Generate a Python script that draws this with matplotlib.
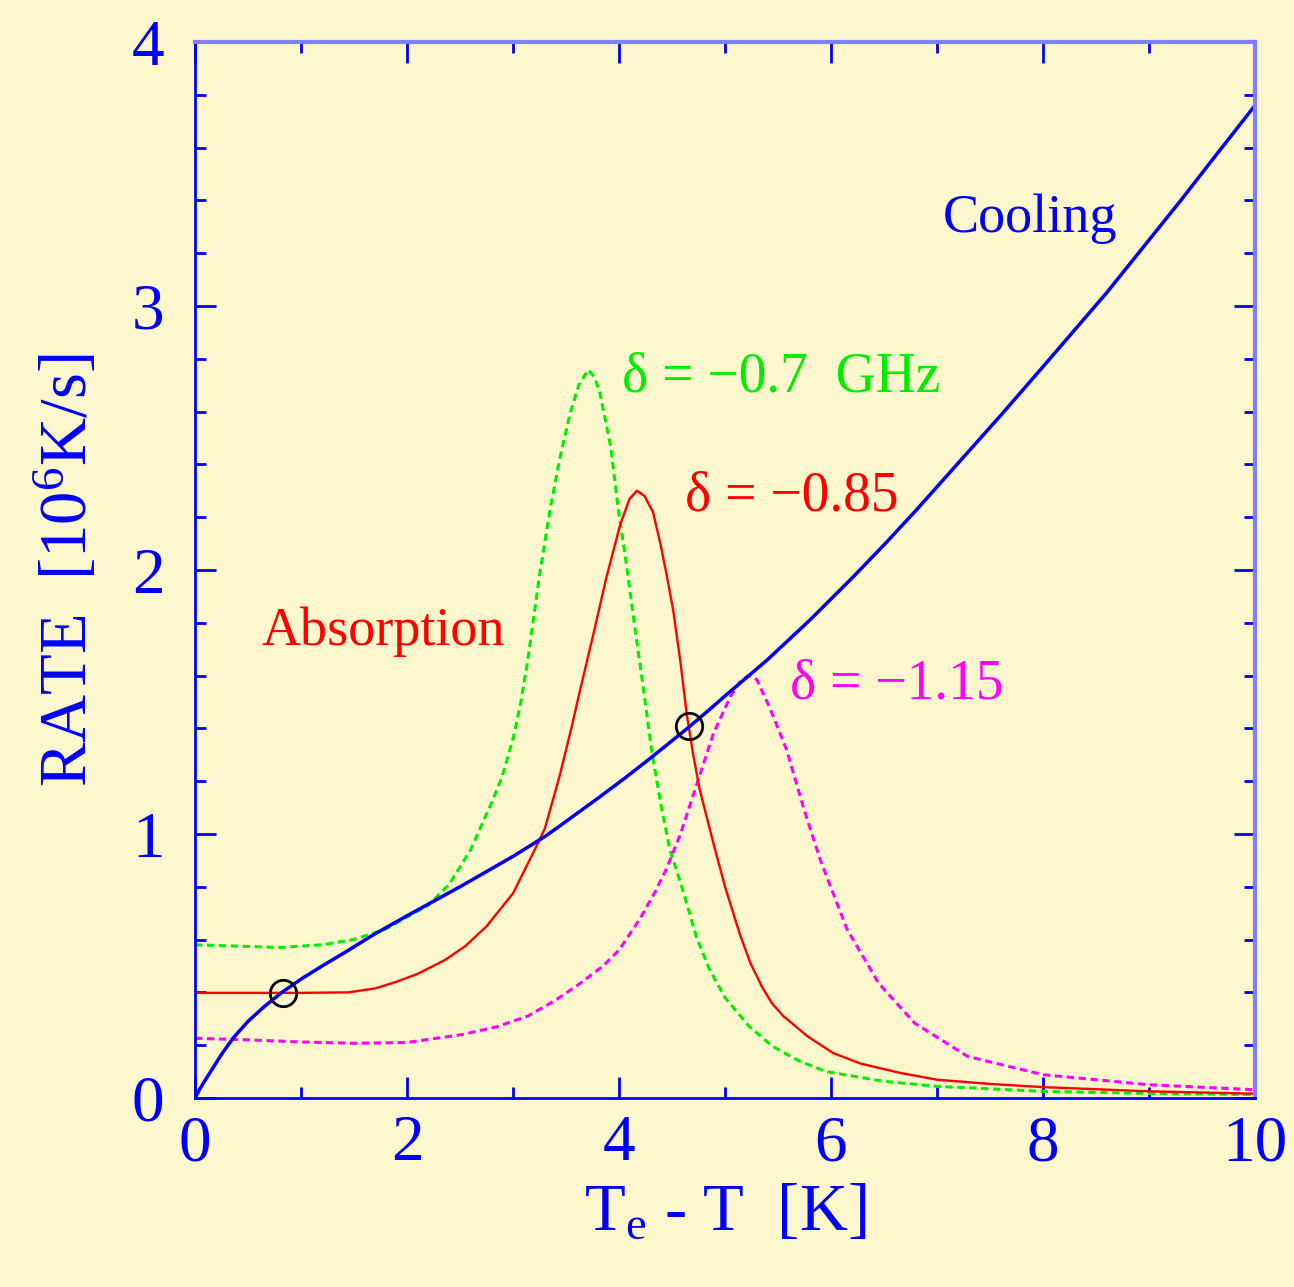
import numpy as np
import matplotlib
matplotlib.use('Agg')
import matplotlib.pyplot as plt

# Values
cool_x = [0, 0.04, 0.08, 0.14, 0.25, 0.36, 0.5, 0.65, 0.82, 1.0, 1.2, 1.45, 1.67, 2.0, 2.5, 3.0, 3.3, 3.44,
          3.8, 4.05, 4.29, 4.46, 4.66, 4.85, 5.05, 5.24, 5.4, 5.6, 5.8, 6.0, 6.2, 6.5, 6.8, 7.0, 7.3, 7.6,
          8.0, 8.3, 8.6, 9.0, 9.3, 9.6, 10]
cool_y = [0, 0.03, 0.057, 0.095, 0.165, 0.227, 0.29, 0.345, 0.40, 0.45, 0.50, 0.56, 0.615, 0.69, 0.80, 0.915, 0.99, 1.03,
          1.135, 1.21, 1.285, 1.34, 1.405, 1.47, 1.54, 1.605, 1.66, 1.735, 1.81, 1.89, 1.97, 2.095, 2.225, 2.315, 2.45, 2.585,
          2.77, 2.91, 3.05, 3.25, 3.40, 3.555, 3.76]

green_x = [0, 0.4, 0.8, 1.2, 1.5, 1.8, 2.0, 2.2, 2.4, 2.6, 2.8, 2.9, 3.0, 3.07, 3.14, 3.25, 3.35, 3.44, 3.54, 3.62,
           3.71, 3.77, 3.82, 3.92, 3.99, 4.07, 4.15, 4.22, 4.31, 4.4, 4.48, 4.6, 4.73, 4.85, 5.0, 5.23, 5.45,
           5.7, 5.95, 6.5, 7.0, 8.0, 9.0, 10]
green_y = [0.58, 0.575, 0.57, 0.58, 0.60, 0.64, 0.685, 0.73, 0.81, 0.94, 1.12, 1.22, 1.36, 1.49, 1.66, 1.98, 2.23, 2.42, 2.595, 2.70,
           2.758, 2.73, 2.67, 2.47, 2.24, 2.02, 1.78, 1.58, 1.31, 1.10, 0.94, 0.79, 0.61, 0.49, 0.38, 0.27, 0.195,
           0.14, 0.10, 0.063, 0.044, 0.025, 0.017, 0.013]

red_x = [0, 1.0, 1.45, 1.7, 1.9, 2.1, 2.36, 2.55, 2.75, 3.0, 3.18, 3.3, 3.44, 3.55, 3.63, 3.76, 3.88, 4.01,
         4.1, 4.17, 4.24, 4.32, 4.39, 4.45, 4.51, 4.58, 4.64, 4.7, 4.76, 4.83, 4.9, 5.0, 5.14, 5.24, 5.35,
         5.44, 5.55, 5.78, 6.02, 6.28, 6.65, 7.0, 7.5, 8.0, 9.0, 10]
red_y = [0.398, 0.398, 0.40, 0.415, 0.44, 0.47, 0.523, 0.575, 0.65, 0.775, 0.92, 1.02, 1.22, 1.40, 1.54, 1.76, 1.97, 2.17,
         2.27, 2.30, 2.28, 2.22, 2.10, 1.98, 1.85, 1.65, 1.45, 1.30, 1.17, 1.06, 0.95, 0.80, 0.62, 0.51, 0.42,
         0.36, 0.31, 0.233, 0.17, 0.13, 0.095, 0.069, 0.053, 0.041, 0.025, 0.016]

mag_x = [0, 0.5, 1.0, 1.5, 2.0, 2.52, 2.85, 3.14, 3.4, 3.62, 3.85, 4.0, 4.2, 4.34, 4.45, 4.58, 4.76,
         4.89, 5.05, 5.14, 5.22, 5.3, 5.42, 5.58, 5.74, 5.9, 6.15, 6.45, 6.79, 7.29, 8.0, 9.0, 10]
mag_y = [0.226, 0.22, 0.212, 0.207, 0.21, 0.24, 0.27, 0.31, 0.37, 0.43, 0.50, 0.56, 0.68, 0.78, 0.87, 1.00, 1.22,
         1.38, 1.52, 1.575, 1.60, 1.585, 1.48, 1.32, 1.10, 0.90, 0.64, 0.434, 0.283, 0.157, 0.088, 0.05, 0.031]

# stable / unstable balance points
pts_x = [0.83, 4.66]
pts_y = [0.398, 1.41]

blue = '#0000ff'
bg = '#fdf7cd'

plt.rcParams['font.family'] = ['Liberation Serif', 'DejaVu Serif']
plt.rcParams['mathtext.fontset'] = 'custom'
plt.rcParams['mathtext.rm'] = 'Liberation Serif'
plt.rcParams['mathtext.default'] = 'regular'

fig, ax = plt.subplots(figsize=(12.94, 12.87), dpi=100)
fig.patch.set_facecolor(bg)
ax.set_facecolor(bg)
plt.subplots_adjust(left=0.1507, right=0.9699, bottom=0.1469, top=0.9674)

ax.plot(green_x, green_y, color='#00ee00', lw=2.2, dashes=(2.4, 1.5))
ax.plot(mag_x, mag_y, color='#ff00ff', lw=2.2, dashes=(2.4, 1.5))
ax.plot(red_x, red_y, color='#ff0000', lw=1.7)
ax.plot(cool_x, cool_y, color=blue, lw=2.5)
ax.plot(pts_x, pts_y, 'o', ms=19, mfc='none', mec='black', mew=2)

ax.set_xlim(0, 10)
ax.set_ylim(0, 4)
ax.set_xticks([0, 2, 4, 6, 8, 10])
ax.set_xticks(np.arange(0, 10.01, 1), minor=True)
ax.set_yticks([0, 1, 2, 3, 4])
ax.set_yticks(np.arange(0, 4.01, 0.2), minor=True)

ax.tick_params(which='both', direction='in', top=True, right=True, color=blue, width=2)
ax.tick_params(which='major', length=15, labelsize=47, labelcolor=blue, pad=12)
ax.tick_params(which='minor', length=8)
ax.tick_params(axis='y', which='major', pad=22)

for s in ['left', 'bottom']:
    ax.spines[s].set_color(blue)
    ax.spines[s].set_linewidth(2)
for s in ['top', 'right']:
    ax.spines[s].set_color('#8080ff')
    ax.spines[s].set_linewidth(3)

ax.set_xlabel('T$_{e}$ - T  [K]', fontsize=48, color=blue, labelpad=6)
ax.set_ylabel('RATE  [10$^{6}$K/s]', fontsize=48, color=blue, labelpad=22)

ax.text(7.88, 3.33, 'Cooling', fontsize=39, color=blue, ha='center', va='center')
ax.text(4.03, 2.73, 'δ = −0.7  GHz', fontsize=40, color='#00ee00', ha='left', va='center')
ax.text(4.62, 2.28, 'δ = −0.85', fontsize=40, color='#ff0000', ha='left', va='center')
ax.text(0.63, 1.765, 'Absorption', fontsize=39, color='#ff0000', ha='left', va='center')
ax.text(5.61, 1.565, 'δ = −1.15', fontsize=40, color='#ff00ff', ha='left', va='center')

plt.savefig('out.png', dpi=100, facecolor=bg)
